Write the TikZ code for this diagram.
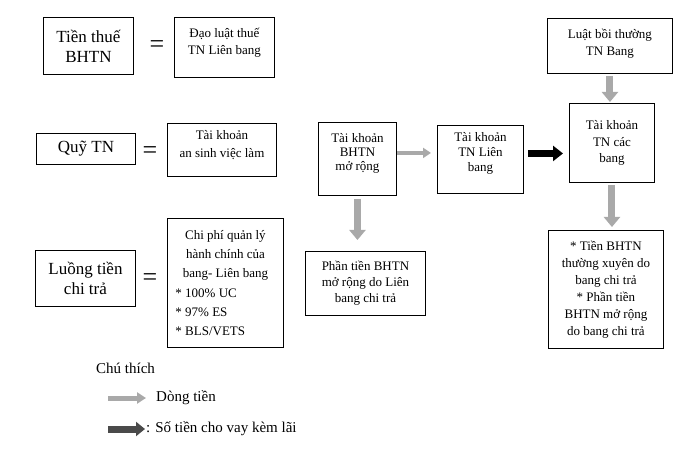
\documentclass[tikz,border=0pt]{standalone}
\usepackage{fontspec}
\setmainfont{Liberation Serif}
\usetikzlibrary{arrows.meta}
\definecolor{flowgray}{HTML}{A9A9A9}
\definecolor{loangray}{HTML}{4A4A4A}
\tikzset{
  bigbox/.style={draw, line width=0.9pt, anchor=north west, align=center, inner sep=0pt, font=\fontsize{17}{20}\selectfont},
  smallbox/.style={draw, line width=0.9pt, anchor=north west, align=center, inner sep=0pt},
  eqsign/.style={inner sep=0pt, font=\fontsize{26}{26}\selectfont},
  flowarrow/.style={draw=flowgray, line width=7pt, -{Triangle[length=10pt,width=16pt]}},
  thinflow/.style={draw=flowgray, line width=4.5pt, -{Triangle[length=8pt,width=10pt]}},
  loanarrow/.style={draw=black, line width=7pt, -{Triangle[length=10pt,width=15pt]}},
  keyflow/.style={draw=flowgray, line width=5pt, -{Triangle[length=9pt,width=11pt]}},
  keyloan/.style={draw=loangray, line width=7pt, -{Triangle[length=9pt,width=14pt]}},
  keytext/.style={anchor=west, inner sep=0pt, font=\fontsize{15}{17}\selectfont},
}
\newcommand{\costline}[1]{\makebox[100pt][l]{#1}}

\begin{document}
\begin{tikzpicture}[x=1pt,y=-1pt]
\useasboundingbox (0,0) rectangle (682,454);

\node[bigbox, minimum width=90pt, minimum height=57pt] (tax) at (43,17) {Tiền thuế\\BHTN};
\node[eqsign] (eqa) at (157,47) {=};
\node[smallbox, minimum width=100pt, minimum height=60pt, font=\fontsize{13}{17}\selectfont] (futa) at (174,17) {Đạo luật thuế\\TN Liên bang\\[-4pt]~};

\node[bigbox, minimum width=99pt, minimum height=31pt] (fund) at (36,133) {Quỹ TN};
\node[eqsign] (eqb) at (150,153) {=};
\node[smallbox, minimum width=109pt, minimum height=53pt, font=\fontsize{13}{18}\selectfont] (trust) at (167,123) {Tài khoản\\an sinh việc làm\\[-7pt]~};

\node[bigbox, minimum width=100pt, minimum height=56pt] (flow) at (35,250) {Luồng tiền\\chi trả};
\node[eqsign] (eqc) at (150,280) {=};
\node[smallbox, minimum width=116pt, minimum height=129pt, text width=100pt, align=flush center, font=\fontsize{13}{19.3}\selectfont] (admin) at (167,218)
  {Chi phí quản lý\\hành chính của\\bang- Liên bang\\\costline{{*} 100\% UC}\\\costline{{*} 97\% ES}\\\costline{{*} BLS/VETS}};

\node[smallbox, minimum width=78pt, minimum height=73pt, font=\fontsize{13}{14}\selectfont] (ext) at (318,122) {Tài khoản\\BHTN\\mở rộng\\~};
\node[smallbox, minimum width=86pt, minimum height=68pt, font=\fontsize{13}{15}\selectfont] (fed) at (437,125) {Tài khoản\\TN Liên\\bang\\~};
\node[smallbox, minimum width=125pt, minimum height=55pt, font=\fontsize{13}{17}\selectfont] (law) at (547,18) {Luật bồi thường\\TN Bang\\[-9pt]~};
\node[smallbox, minimum width=85pt, minimum height=79pt, font=\fontsize{13}{16.5}\selectfont] (state) at (569,103) {Tài khoản\\TN các\\bang};
\node[smallbox, minimum width=120pt, minimum height=64pt, font=\fontsize{13}{16}\selectfont] (extpay) at (305,251) {Phần tiền BHTN\\mở rộng do Liên\\bang chi trả};
\node[smallbox, minimum width=115pt, minimum height=118pt, font=\fontsize{13}{17}\selectfont] (statepay) at (548,230)
  {{*} Tiền BHTN\\thường xuyên do\\bang chi trả\\{*} Phần tiền\\BHTN mở rộng\\do bang chi trả};

\draw[flowarrow, shorten <=2pt, shorten >=1pt] (law) -- (law |- state.north);
\draw[flowarrow, shorten <=2pt, shorten >=3pt] (state) -- (state |- statepay.north);
\draw[flowarrow, shorten <=3pt, shorten >=11pt] (ext) -- (ext |- extpay.north);
\draw[thinflow, shorten >=6pt] ([yshift=6pt]ext.east) -- ([yshift=6pt]ext.east -| fed.west);
\draw[loanarrow, shorten <=4pt, shorten >=6pt] ([yshift=6pt]fed.east) -- ([yshift=6pt]fed.east -| state.west);

\node[keytext] (key) at (96,368) {Chú thích};
\coordinate (flowtail) at (108,398);
\node[keytext] (flowkey) at (156,398) {Dòng tiền};
\draw[keyflow, shorten >=10pt] (flowtail) -- (flowkey);
\coordinate (loantail) at (108,429);
\node[keytext] (loankey) at (146,429) {: Số tiền cho vay kèm lãi};
\draw[keyloan, shorten >=1pt] (loantail) -- (loankey);

\end{tikzpicture}
\end{document}
